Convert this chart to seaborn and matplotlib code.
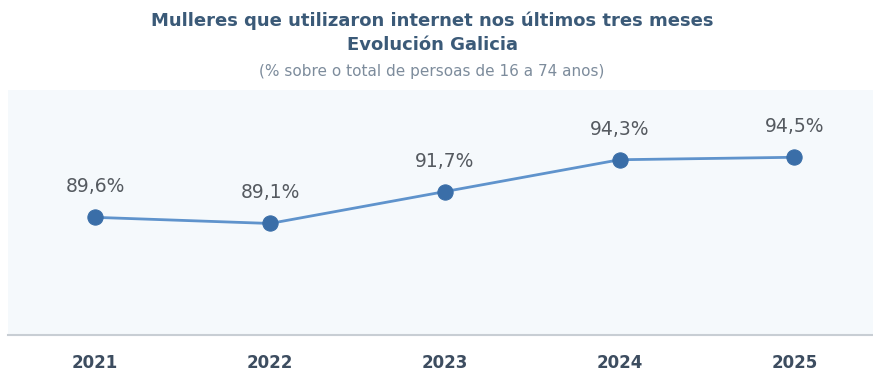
import pandas as pd
import seaborn as sns
import matplotlib.pyplot as plt

# Data
years = ['2021', '2022', '2023', '2024', '2025']
values = [89.6, 89.1, 91.7, 94.3, 94.5]
labels = ['89,6%', '89,1%', '91,7%', '94,3%', '94,5%']

sns.set_theme(style='white')
plt.rcParams['font.family'] = ['DejaVu Sans']

df = pd.DataFrame({'year': years, 'value': values})
df['pos'] = range(len(years))

fig = plt.figure(figsize=(8.73, 3.76), dpi=100)
ax = fig.add_axes([0.009, 0.109, 0.991, 0.652])
ax.set_facecolor('#f5f9fc')

sns.lineplot(data=df, x='pos', y='value', ax=ax, color='#5f93cc', linewidth=2,
             marker='o', markersize=11, markerfacecolor='#3a6ea8',
             markeredgecolor='#3a6ea8')

for i, (v, lab) in enumerate(zip(values, labels)):
    ax.annotate(lab, (i, v), xytext=(0, 22), textcoords='offset points',
                ha='center', va='center', fontsize=13.5, color='#555a60')

ax.set_ylim(80, 100)
ax.set_xlim(-0.5, 4.45)
ax.set_yticks([])
ax.set_xticks(df['pos'])
ax.set_xticklabels(years, fontsize=12, fontweight='bold', color='#3d4d60')
ax.tick_params(axis='x', length=0, pad=14)
ax.set_xlabel('')
ax.set_ylabel('')
for side in ['top', 'left', 'right']:
    ax.spines[side].set_visible(False)
ax.spines['bottom'].set_color('#c8ced4')
ax.spines['bottom'].set_linewidth(1.5)

fig.text(0.495, 0.946, 'Mulleres que utilizaron internet nos últimos tres meses',
         ha='center', va='center', fontsize=13, fontweight='bold', color='#3b5a78')
fig.text(0.495, 0.881, 'Evolución Galicia',
         ha='center', va='center', fontsize=13, fontweight='bold', color='#3b5a78')
fig.text(0.495, 0.811, '(% sobre o total de persoas de 16 a 74 anos)',
         ha='center', va='center', fontsize=11, color='#7d8c9c')

fig.savefig('out.png', dpi=100, facecolor='white')
